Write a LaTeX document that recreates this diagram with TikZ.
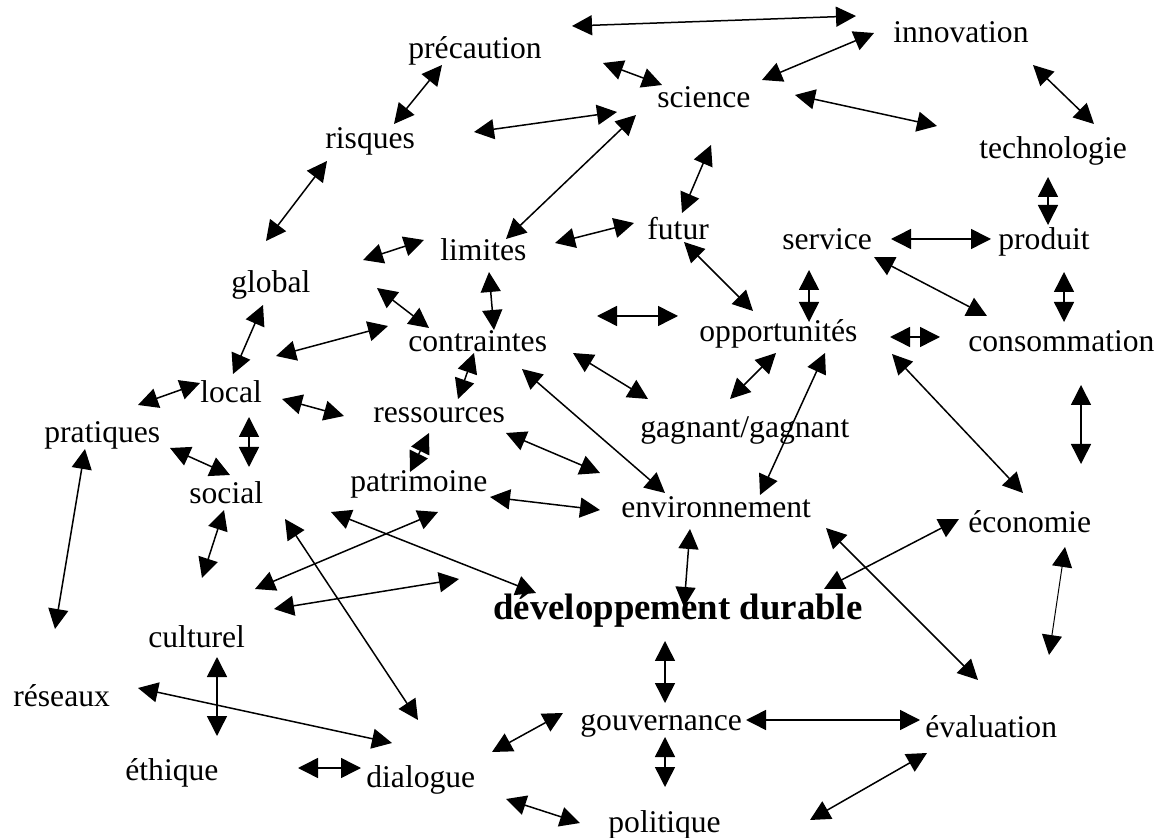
\documentclass[tikz,border=0pt]{standalone}
\usepackage{fontspec}
\setmainfont{Liberation Serif}
\usetikzlibrary{arrows.meta}
\newcommand\lnkdraw[4][]{\coordinate (#2a) at (#3); \coordinate (#2b) at (#4); \draw[lnk,#1] (#2a) -- (#2b);}
\tikzset{
  lbl/.style={anchor=base west, inner sep=0pt, font=\fontsize{15.8}{19}\selectfont},
  big/.style={anchor=base west, inner sep=0pt, font=\fontsize{18.4}{22}\selectfont\bfseries},
  lnk/.style={{Triangle[length=10pt,width=10pt]}-{Triangle[length=10pt,width=10pt]}, line width=0.75pt}
}
\begin{document}
\begin{tikzpicture}[x=0.5pt,y=-0.5pt]
\useasboundingbox (0,0) rectangle (1161,838);
% nodes
\node[lbl] (precaution) at (408,59) {précaution};
\node[lbl] (risques) at (325,149) {risques};
\node[lbl] (limites) at (440,261) {limites};
\node[lbl] (innovation) at (893,43) {innovation};
\node[lbl] (science) at (657,108) {science};
\node[lbl] (technologie) at (979,159) {technologie};
\node[lbl] (futur) at (647,240) {futur};
\node[lbl] (service) at (782,250) {service};
\node[lbl] (produit) at (998,250) {produit};
\node[lbl] (global) at (231,293) {global};
\node[lbl] (contraintes) at (408,352) {contraintes};
\node[lbl] (local) at (200,403) {local};
\node[lbl] (pratiques) at (44,443) {pratiques};
\node[lbl] (ressources) at (373,423) {ressources};
\node[lbl] (social) at (189,504) {social};
\node[lbl] (patrimoine) at (350,492) {patrimoine};
\node[lbl] (opportunites) at (699,342) {opportunités};
\node[lbl] (consommation) at (968,352) {consommation};
\node[lbl] (gagnant) at (640,438) {gagnant/gagnant};
\node[lbl] (environnement) at (621,518) {environnement};
\node[lbl] (economie) at (968,533) {économie};
\node[lbl] (culturel) at (148,647) {culturel};
\node[lbl] (reseaux) at (13,706) {réseaux};
\node[lbl] (ethique) at (125,780) {éthique};
\node[lbl] (dialogue) at (366,787) {dialogue};
\node[big] (dd) at (493,620) {développement durable};
\node[lbl] (gouvernance) at (580,730) {gouvernance};
\node[lbl] (evaluation) at (925,737) {évaluation};
\node[lbl] (politique) at (608,832) {politique};
% connectors
\lnkdraw{k1}{572,26}{856,16}
\lnkdraw{k2}{442,65}{394,124}
\lnkdraw{k3}{874,33}{762,80}
\lnkdraw{k4}{603,63}{662,85}
\lnkdraw{k5}{474,132}{617,112}
\lnkdraw{k6}{795,95}{937,126}
\lnkdraw{k7}{1033,65}{1094,124}
\lnkdraw{k8}{506,239}{636,115}
\lnkdraw{k9}{327,161}{266,241}
\lnkdraw{k10}{711,145}{682,213}
\lnkdraw{k11}{363,260}{424,240}
\lnkdraw{k12}{555,243}{634,223}
\lnkdraw{k13}{891,239}{991,239}
\lnkdraw{k14}{1048,177}{1048,225}
\lnkdraw{k15}{263,305}{233,374}
\lnkdraw{k16}{377,288}{429,328}
\lnkdraw{k17}{489,272}{494,330}
\lnkdraw{k18}{684,242}{753,311}
\lnkdraw{k19}{809,270}{809,322}
\lnkdraw{k20}{874,257}{987,316}
\lnkdraw{k21}{1064,272}{1064,322}
\lnkdraw{k22}{276,356}{388,326}
\lnkdraw{k23}{597,316}{678,316}
\lnkdraw{k24}{890,337}{940,337}
\lnkdraw{k25}{138,405}{200,383}
\lnkdraw{k26}{282,399}{344,416}
\lnkdraw{k27}{474,353}{458,399}
\lnkdraw{k28}{573,353}{648,399}
\lnkdraw{k29}{730,399}{776,353}
\lnkdraw{k30}{825,353}{760,495}
\lnkdraw{k31}{892,354}{1023,493}
\lnkdraw{k32}{1081,385}{1081,464}
\lnkdraw{k33}{249,417}{249,467}
\lnkdraw{k34}{170,448}{230,475}
\lnkdraw{k35}{429,433}{410,472}
\lnkdraw{k36}{506,433}{600,473}
\lnkdraw{k37}{522,369}{665,493}
\lnkdraw{k38}{490,497}{600,510}
\lnkdraw{k39}{85,449}{55,629}
\lnkdraw{k40}{224,510}{202,578}
\lnkdraw{k41}{285,519}{418,720}
\lnkdraw{k42}{331,512}{536,593}
\lnkdraw{k43}{438,512}{255,589}
\lnkdraw{k44}{274,609}{459,579}
\lnkdraw{k45}{690,529}{684,607}
\lnkdraw{k46}{826,528}{978,680}
\lnkdraw{k47}{959,519}{824,589}
\lnkdraw[line width=0.5pt]{k48}{1065,547}{1049,655}
\lnkdraw{k49}{217,657}{217,736}
\lnkdraw{k50}{138,688}{392,743}
\lnkdraw{k51}{298,768}{361,768}
\lnkdraw{k52}{492,752}{563,713}
\lnkdraw{k53}{506,799}{580,823}
\lnkdraw{k54}{665,641}{665,703}
\lnkdraw{k55}{746,720}{920,720}
\lnkdraw{k56}{665,737}{665,787}
\lnkdraw{k57}{810,820}{927,753}
\end{tikzpicture}
\end{document}
